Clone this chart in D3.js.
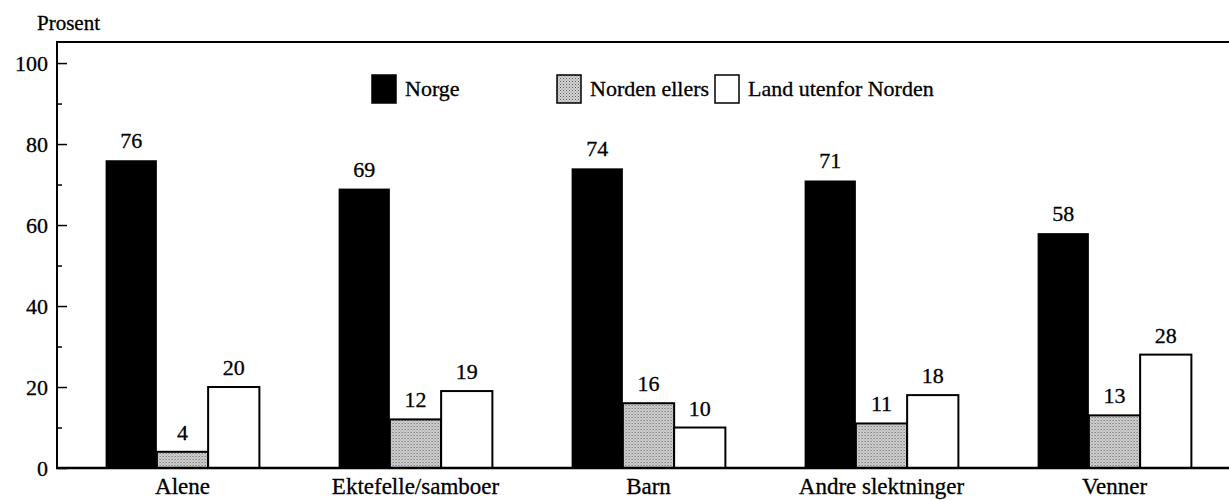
<!DOCTYPE html>
<html>
<head>
<meta charset="utf-8">
<script src="https://cdn.jsdelivr.net/npm/d3@7.9.0/dist/d3.min.js"></script>
<style>
  body { margin: 0; background: #fff; }
  svg { display: block; font-family: "Liberation Serif", "DejaVu Serif", serif; }
  svg text { stroke: #000; stroke-width: 0.3px; }
</style>
</head>
<body>
<svg id="chart" width="1229" height="500"></svg>
<script>
const categories = ['Alene', 'Ektefelle/samboer', 'Barn', 'Andre slektninger', 'Venner'];
const series = ['Norge', 'Norden ellers', 'Land utenfor Norden'];
const norge = [76, 69, 74, 71, 58];
const nordenEllers = [4, 12, 16, 11, 13];
const landUtenfor = [20, 19, 10, 18, 28];
const yTicks = [0, 20, 40, 60, 80, 100];

const values = [norge, nordenEllers, landUtenfor];
const data = categories.map((c, i) => ({
  cat: c,
  vals: series.map((s, j) => ({ key: s, value: values[j][i] }))
}));

const svg = d3.select('#chart');
const mLeft = 57, mTop = 42, mBottom = 468, mRight = 1229;

// stipple fill for "Norden ellers"
const pat = svg.append('defs').append('pattern')
  .attr('id', 'dots')
  .attr('width', 3).attr('height', 3)
  .attr('patternUnits', 'userSpaceOnUse');
pat.append('rect').attr('width', 3).attr('height', 3).attr('fill', '#d6d6d6');
pat.append('rect').attr('x', 0).attr('y', 0).attr('width', 1).attr('height', 1).attr('fill', '#555');
pat.append('rect').attr('x', 1.5).attr('y', 1.5).attr('width', 1).attr('height', 1).attr('fill', '#777');

const fills = { 'Norge': '#000', 'Norden ellers': 'url(#dots)', 'Land utenfor Norden': '#fff' };

const y = d3.scaleLinear().domain([0, 105.2]).range([mBottom, mTop]);
const x0 = d3.scaleBand().domain(categories).range([66, 1231])
  .paddingInner(0.34).paddingOuter(0.17);
const x1 = d3.scaleBand().domain(series).range([0, x0.bandwidth()]);

// frame line on top
svg.append('line').attr('x1', mLeft).attr('x2', mRight).attr('y1', mTop).attr('y2', mTop)
  .attr('stroke', '#000').attr('stroke-width', 2);

// y axis with inward ticks
const yAxis = svg.append('g').attr('transform', `translate(${mLeft},0)`)
  .call(d3.axisRight(y).tickValues(d3.range(0, 101, 10)).tickSize(5).tickFormat(''));
yAxis.select('.domain').remove();
yAxis.selectAll('.tick line').attr('stroke-width', 1.5)
  .attr('x2', d => (d % 20 === 0 ? 10 : 5));

svg.append('line').attr('x1', mLeft).attr('x2', mLeft).attr('y1', mTop - 1).attr('y2', mBottom + 1)
  .attr('stroke', '#000').attr('stroke-width', 2);

svg.append('g').selectAll('text').data(yTicks).join('text')
  .attr('x', mLeft - 9).attr('y', d => y(d)).attr('dy', '0.35em')
  .attr('text-anchor', 'end').attr('font-size', 22).text(d => d);

svg.append('text').attr('x', 37).attr('y', 30).attr('font-size', 21).text('Prosent');

// bars
const groups = svg.append('g').selectAll('g').data(data).join('g')
  .attr('transform', d => `translate(${x0(d.cat)},0)`);

groups.selectAll('rect').data(d => d.vals).join('rect')
  .attr('x', d => x1(d.key)).attr('width', x1.bandwidth())
  .attr('y', d => y(d.value)).attr('height', d => y(0) - y(d.value))
  .attr('fill', d => fills[d.key])
  .attr('stroke', d => (d.key === 'Norge' ? 'none' : '#000'))
  .attr('stroke-width', 2);

groups.selectAll('text').data(d => d.vals).join('text')
  .attr('x', d => x1(d.key) + x1.bandwidth() / 2)
  .attr('y', d => y(d.value) - 12)
  .attr('text-anchor', 'middle').attr('font-size', 22)
  .text(d => d.value);

// x baseline
svg.append('line').attr('x1', mLeft - 1).attr('x2', mRight).attr('y1', mBottom).attr('y2', mBottom)
  .attr('stroke', '#000').attr('stroke-width', 2.5);

svg.append('g').selectAll('text').data(categories).join('text')
  .attr('x', d => x0(d) + x0.bandwidth() / 2).attr('y', 494)
  .attr('text-anchor', 'middle').attr('font-size', 23).text(d => d);

// legend
const legendX = [372, 557, 715];
const leg = svg.append('g').selectAll('g').data(series).join('g')
  .attr('transform', (d, i) => `translate(${legendX[i]},75)`);
leg.append('rect').attr('width', 24).attr('height', 28)
  .attr('fill', d => fills[d]).attr('stroke', '#000').attr('stroke-width', 1.5);
leg.append('text').attr('x', 33).attr('y', 21).attr('font-size', 22).text(d => d);
</script>
</body>
</html>
